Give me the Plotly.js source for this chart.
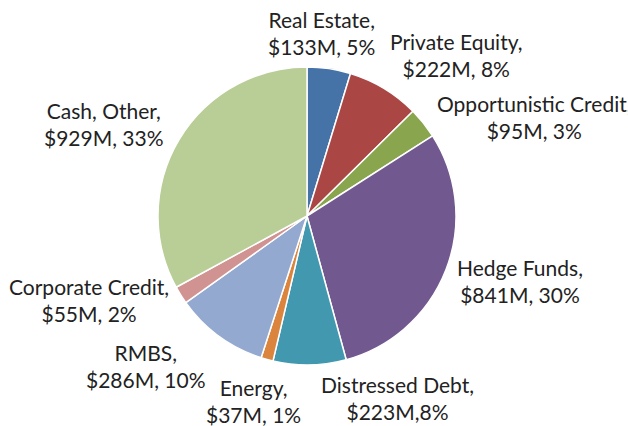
<!DOCTYPE html>
<html>
<head>
<meta charset="utf-8">
<script src="https://cdn.plot.ly/plotly-3.0.1.min.js"></script>
<style>html,body{margin:0;padding:0;background:#fff;}#chart{width:628px;height:426px;}</style>
</head>
<body>
<div id="chart"></div>
<script>
// Data (clockwise from 12 o'clock)
const categories = ["Real Estate", "Private Equity", "Opportunistic Credit", "Hedge Funds", "Distressed Debt", "Energy", "RMBS", "Corporate Credit", "Cash, Other"];
const valuesM = [133, 222, 95, 841, 223, 37, 286, 55, 929];
const detailLabels = ["$133M, 5%", "$222M, 8%", "$95M, 3%", "$841M, 30%", "$223M,8%", "$37M, 1%", "$286M, 10%", "$55M, 2%", "$929M, 33%"];
const colors = ["#4572A7", "#AA4643", "#89A54E", "#71588F", "#4198AF", "#DB843D", "#93A9CF", "#D19392", "#B9CD97"];

// label placement (pixel centres in the 628x426 canvas)
const labelPos = [[321, 33], [456, 55], [534, 117], [520, 281], [397, 398], [253, 401], [146, 366], [89, 300], [104, 124]];

const W = 628, H = 426;
const cx = 307, cy = 216, r = 149;

const annotations = categories.map((c, i) => ({
  text: c + ",<br>" + detailLabels[i],
  x: labelPos[i][0] / W,
  y: 1 - labelPos[i][1] / H,
  xref: "paper", yref: "paper",
  xanchor: "center", yanchor: "middle",
  showarrow: false,
  font: {family: "Lato, 'Open Sans', sans-serif", size: 21, color: "#222222"}
}));

const trace = {
  type: "pie",
  labels: categories,
  values: valuesM,
  sort: false,
  direction: "clockwise",
  rotation: 0,
  textinfo: "none",
  hoverinfo: "label+value+percent",
  marker: {colors: colors, line: {color: "#ffffff", width: 1.5}},
  domain: {x: [(cx - r) / W, (cx + r) / W], y: [1 - (cy + r) / H, 1 - (cy - r) / H]}
};

Plotly.newPlot("chart", [trace], {
  width: W, height: H,
  margin: {l: 0, r: 0, t: 0, b: 0},
  showlegend: false,
  paper_bgcolor: "#ffffff",
  annotations: annotations
}, {displayModeBar: false, staticPlot: true});
</script>
</body>
</html>
